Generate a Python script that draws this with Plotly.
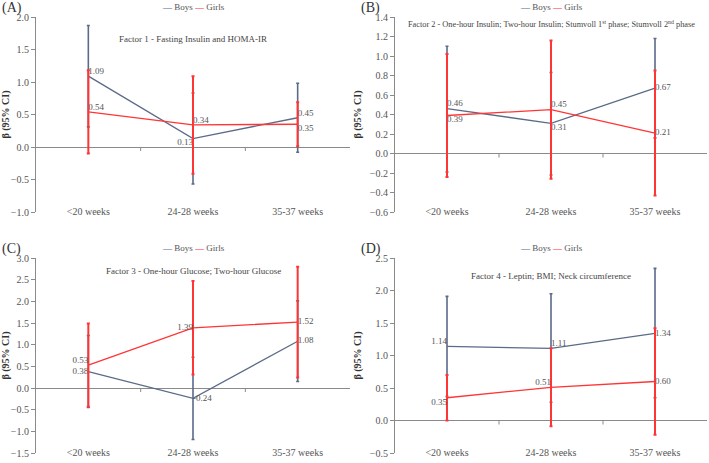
import plotly.graph_objects as go

categories = ["<20 weeks", "24-28 weeks", "35-37 weeks"]

# Panel A - Factor 1
a_boys = [1.09, 0.13, 0.45]
a_boys_lo = [0.31, -0.57, -0.08]
a_boys_hi = [1.87, 0.83, 0.98]
a_girls = [0.54, 0.34, 0.35]
a_girls_lo = [-0.10, -0.41, 0.01]
a_girls_hi = [1.18, 1.09, 0.69]

# Panel B - Factor 2
b_boys = [0.46, 0.31, 0.67]
b_boys_lo = [-0.19, -0.22, 0.16]
b_boys_hi = [1.10, 0.83, 1.18]
b_girls = [0.39, 0.45, 0.21]
b_girls_lo = [-0.24, -0.26, -0.43]
b_girls_hi = [1.02, 1.16, 0.85]

# Panel C - Factor 3
c_boys = [0.38, -0.24, 1.08]
c_boys_lo = [-0.45, -1.19, 0.15]
c_boys_hi = [1.21, 0.71, 2.01]
c_girls = [0.53, 1.39, 1.52]
c_girls_lo = [-0.43, 0.31, 0.24]
c_girls_hi = [1.49, 2.47, 2.80]

# Panel D - Factor 4
d_boys = [1.14, 1.11, 1.34]
d_boys_lo = [0.37, 0.28, 0.35]
d_boys_hi = [1.91, 1.95, 2.34]
d_girls = [0.35, 0.51, 0.60]
d_girls_lo = [0.00, -0.09, -0.22]
d_girls_hi = [0.70, 1.11, 1.42]

panel_letters = ["(A)", "(B)", "(C)", "(D)"]
panel_titles = [
    "Factor 1 - Fasting Insulin and HOMA-IR",
    "Factor 2 - One-hour Insulin; Two-hour Insulin; Stumvoll 1<sup>st</sup> phase; Stumvoll 2<sup>nd</sup> phase",
    "Factor 3 - One-hour Glucose; Two-hour Glucose",
    "Factor 4 - Leptin; BMI; Neck circumference",
]
series_names = ["Boys", "Girls"]
y_ranges = [[-1.0, 2.0], [-0.6, 1.4], [-1.5, 3.0], [-0.5, 2.5]]
y_dticks = [0.5, 0.2, 0.5, 0.5]

boys_textpos = [
    ["top right", "bottom left", "top right"],
    ["top right", "bottom right", "middle right"],
    ["middle left", "middle right", "middle right"],
    ["top left", "top right", "middle right"],
]
girls_textpos = [
    ["top right", "top right", "bottom right"],
    ["bottom right", "top right", "middle right"],
    ["top left", "middle left", "middle right"],
    ["bottom left", "top left", "middle right"],
]

panels = [
    (a_boys, a_boys_lo, a_boys_hi, a_girls, a_girls_lo, a_girls_hi),
    (b_boys, b_boys_lo, b_boys_hi, b_girls, b_girls_lo, b_girls_hi),
    (c_boys, c_boys_lo, c_boys_hi, c_girls, c_girls_lo, c_girls_hi),
    (d_boys, d_boys_lo, d_boys_hi, d_girls, d_girls_lo, d_girls_hi),
]

W, H = 709, 463
x_domains = [[36 / W, 350 / W], [395 / W, 707 / W], [36 / W, 350 / W], [395 / W, 707 / W]]
y_domains = [[1 - 212 / H, 1 - 17 / H], [1 - 212 / H, 1 - 17 / H],
             [1 - 453 / H, 1 - 258 / H], [1 - 453 / H, 1 - 258 / H]]

BOYS = "#5b6a88"
GIRLS = "#ff3535"
AXIS = "#8a8a8a"
TXT = "#555555"
FONT = "Liberation Serif, Times New Roman, DejaVu Serif, serif"

fig = go.Figure()
layout = {}
annotations = []
shapes = []

for i, (bv, blo, bhi, gv, glo, ghi) in enumerate(panels):
    n = i + 1
    xa = "x" if n == 1 else f"x{n}"
    ya = "y" if n == 1 else f"y{n}"
    for name, vals, lo, hi, col, tp, thick in [
        (series_names[0], bv, blo, bhi, BOYS, boys_textpos[i], 1.6),
        (series_names[1], gv, glo, ghi, GIRLS, girls_textpos[i], 2.0),
    ]:
        fig.add_trace(go.Scatter(
            x=categories, y=vals, name=name, mode="lines+text",
            text=[f"{v:.2f}" for v in vals], textposition=tp,
            textfont=dict(family=FONT, size=9, color=TXT),
            line=dict(color=col, width=1.3),
            error_y=dict(type="data", symmetric=False,
                         array=[h - v for h, v in zip(hi, vals)],
                         arrayminus=[v - l for v, l in zip(vals, lo)],
                         color=col, thickness=thick, width=1.5),
            xaxis=xa, yaxis=ya, showlegend=False, cliponaxis=False,
            hoverinfo="skip",
        ))
    xkey = "xaxis" if n == 1 else f"xaxis{n}"
    ykey = "yaxis" if n == 1 else f"yaxis{n}"
    layout[xkey] = dict(
        domain=x_domains[i], anchor=ya, type="category",
        range=[-0.5, len(categories) - 0.5],
        showline=False, showgrid=False, zeroline=False, ticks="",
        ticklabelstandoff=-8,
        tickfont=dict(family=FONT, size=10, color=TXT),
    )
    layout[ykey] = dict(
        domain=y_domains[i], anchor=xa, range=y_ranges[i], dtick=y_dticks[i],
        tickformat=".1f", showgrid=False, showline=True, linecolor=AXIS,
        linewidth=1, ticks="outside", ticklen=4, tickcolor=AXIS,
        zeroline=True, zerolinecolor=AXIS, zerolinewidth=1,
        tickfont=dict(family=FONT, size=10, color=TXT),
        title=dict(text="<b>β (95% CI)</b>", font=dict(family=FONT, size=10, color="#333"),
                   standoff=6),
    )
    # category boundary ticks on the zero line
    for b in range(1, len(categories)):
        shapes.append(dict(type="line", xref=xa, yref=ya, x0=b - 0.5, x1=b - 0.5,
                           ysizemode="pixel", yanchor=0, y0=0, y1=-4,
                           line=dict(color=AXIS, width=1)))
    dx0, dx1 = x_domains[i]
    dy0, dy1 = y_domains[i]
    legend_text = (f"<span style='color:{BOYS}'><b>—</b></span> {series_names[0]} "
                   f"<span style='color:{GIRLS}'><b>—</b></span> {series_names[1]}")
    annotations.append(dict(
        text=legend_text, xref=f"{xa} domain", yref="paper",
        x=0.5, y=dy1 + 10 / H, xanchor="center", yanchor="middle",
        showarrow=False, font=dict(family=FONT, size=9, color=TXT),
    ))
    annotations.append(dict(
        text=panel_letters[i], xref="paper", yref="paper",
        x=dx0 - 36 / W, y=dy1 + 9 / H, xanchor="left", yanchor="middle",
        showarrow=False, font=dict(family=FONT, size=14, color="#333"),
    ))
    title_offset = [22, 7, 13, 18][i]
    title_size = [9, 8.3, 9, 9][i]
    annotations.append(dict(
        text=panel_titles[i], xref=f"{xa} domain", yref="paper",
        x=0.5, y=dy1 - title_offset / H, xanchor="center", yanchor="middle",
        showarrow=False, font=dict(family=FONT, size=title_size, color="#444"),
    ))

fig.update_layout(
    width=W, height=H, margin=dict(l=0, r=0, t=0, b=0, autoexpand=False),
    paper_bgcolor="white", plot_bgcolor="white", hovermode=False,
    annotations=annotations, shapes=shapes, **layout,
)

fig.write_html("out.html", config={"displayModeBar": False},
               post_script="document.body.style.margin='0';")
